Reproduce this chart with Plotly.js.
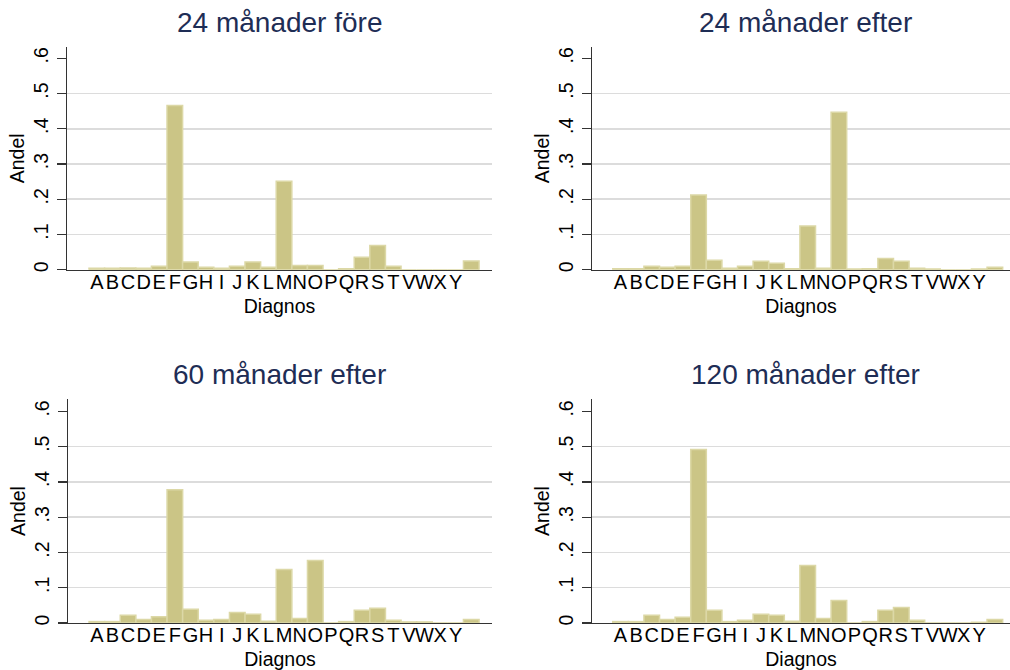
<!DOCTYPE html>
<html>
<head>
<meta charset="utf-8">
<script src="https://cdn.plot.ly/plotly-3.0.1.min.js"></script>
<style>
  html, body { margin: 0; padding: 0; background: #fff; }
  #chart { width: 1010px; height: 670px; }
</style>
</head>
<body>
<div id="chart"></div>
<script>
// Diagnosis bins (25 bins; the last one has no label on the axis)
const binLabels = ['A','B','C','D','E','F','G','H','I','J','K','L','M','N','O','P','Q','R','S','T','V','W','X','Y',''];

const panelTitles = ['24 månader före', '24 månader efter', '60 månader efter', '120 månader efter'];

const fore24   = [0.004,0.004,0.005,0.004,0.010,0.466,0.022,0.007,0.004,0.010,0.022,0.007,0.251,0.012,0.012,0.000,0.003,0.035,0.069,0.010,0.000,0.000,0.000,0.000,0.025];
const efter24  = [0.003,0.003,0.010,0.007,0.010,0.212,0.027,0.004,0.010,0.024,0.018,0.003,0.124,0.004,0.447,0.002,0.003,0.032,0.024,0.004,0.002,0.000,0.000,0.002,0.007];
const efter60  = [0.004,0.004,0.022,0.010,0.018,0.378,0.039,0.008,0.010,0.030,0.025,0.005,0.152,0.013,0.177,0.000,0.004,0.036,0.042,0.008,0.003,0.003,0.000,0.000,0.010];
const efter120 = [0.004,0.004,0.022,0.010,0.016,0.492,0.036,0.004,0.008,0.025,0.022,0.005,0.163,0.013,0.064,0.000,0.004,0.036,0.044,0.008,0.000,0.000,0.000,0.002,0.010];

const yTickVals = [0, 0.1, 0.2, 0.3, 0.4, 0.5, 0.6];
const yTickText = ['0', '.1', '.2', '.3', '.4', '.5', '.6'];
const yGridVals = [0.1, 0.2, 0.3, 0.4, 0.5];

const series = [fore24, efter24, efter60, efter120];

// layout geometry (pixels in a 1010x670 page)
const W = 1010, H = 670;
const panels = [
  {x0: 67,  x1: 492,  yTop: 47,  yBot: 269.7, xr: [-0.91, 26.33], yr: [0, 0.632], tx: 279.5, ty: 22},
  {x0: 592, x1: 1010, yTop: 47,  yBot: 269.7, xr: [-0.83, 25.97], yr: [0, 0.632], tx: 805,   ty: 22},
  {x0: 68,  x1: 492,  yTop: 399, yBot: 623,   xr: [-0.85, 26.33], yr: [0, 0.635], tx: 279.5, ty: 375},
  {x0: 592, x1: 1010, yTop: 399, yBot: 623,   xr: [-0.83, 25.97], yr: [0, 0.635], tx: 805,   ty: 375}
];

const xPos = binLabels.map((_, i) => i + 1);
const xTickVals = [], xTickText = [];
binLabels.forEach((l, i) => { if (l !== '') { xTickVals.push(i + 1); xTickText.push(l); } });

const font = 'Liberation Sans, Arial, Helvetica, sans-serif';
const barFill = '#cbc586';
const barLine = '#dcd8a6';
const axisCol = '#333333';
const gridCol = '#dcdcdc';

const traces = [];
const layout = {
  width: W, height: H,
  margin: {l: 0, r: 0, t: 0, b: 0},
  paper_bgcolor: '#ffffff',
  plot_bgcolor: '#ffffff',
  showlegend: false,
  bargap: 0,
  font: {family: font, color: '#000'},
  annotations: []
};

panels.forEach((p, k) => {
  const n = k === 0 ? '' : String(k + 1);
  traces.push({
    type: 'bar',
    x: xPos,
    y: series[k],
    width: 1,
    xaxis: 'x' + n,
    yaxis: 'y' + n,
    marker: {color: barFill, line: {color: barLine, width: 1.5}},
    hoverinfo: 'y'
  });
  layout['xaxis' + n] = {
    domain: [p.x0 / W, p.x1 / W],
    range: p.xr,
    anchor: 'y' + n,
    tickvals: xTickVals,
    ticktext: xTickText,
    tickangle: 0,
    ticks: '',
    ticklabelstandoff: -6,
    tickfont: {size: 20, family: font, color: '#000'},
    showgrid: false,
    zeroline: false,
    showline: true,
    linecolor: axisCol,
    linewidth: 1.3,
    title: {text: 'Diagnos', font: {size: 19.5, family: font, color: '#000'}, standoff: 7}
  };
  layout['yaxis' + n] = {
    domain: [1 - p.yBot / H, 1 - p.yTop / H],
    range: p.yr,
    anchor: 'x' + n,
    tickvals: yTickVals,
    ticktext: yTickText,
    tickangle: -90,
    ticks: 'outside',
    ticklen: 9,
    tickwidth: 1.3,
    tickcolor: axisCol,
    ticklabelstandoff: 1,
    tickfont: {size: 19.5, family: font, color: '#000'},
    showgrid: false,
    minor: {tickvals: yGridVals, showgrid: true, gridcolor: gridCol, gridwidth: 1.5, ticks: ''},
    zeroline: false,
    showline: true,
    linecolor: axisCol,
    linewidth: 1.3,
    title: {text: 'Andel', font: {size: 19.5, family: font, color: '#000'}, standoff: 0}
  };
  layout.annotations.push({
    text: panelTitles[k],
    xref: 'paper', yref: 'paper',
    x: p.tx / W, y: 1 - p.ty / H,
    xanchor: 'center', yanchor: 'middle',
    showarrow: false,
    font: {size: 28, family: font, color: '#1e2d55'}
  });
});

Plotly.newPlot('chart', traces, layout, {displayModeBar: false, staticPlot: true});
</script>
</body>
</html>
